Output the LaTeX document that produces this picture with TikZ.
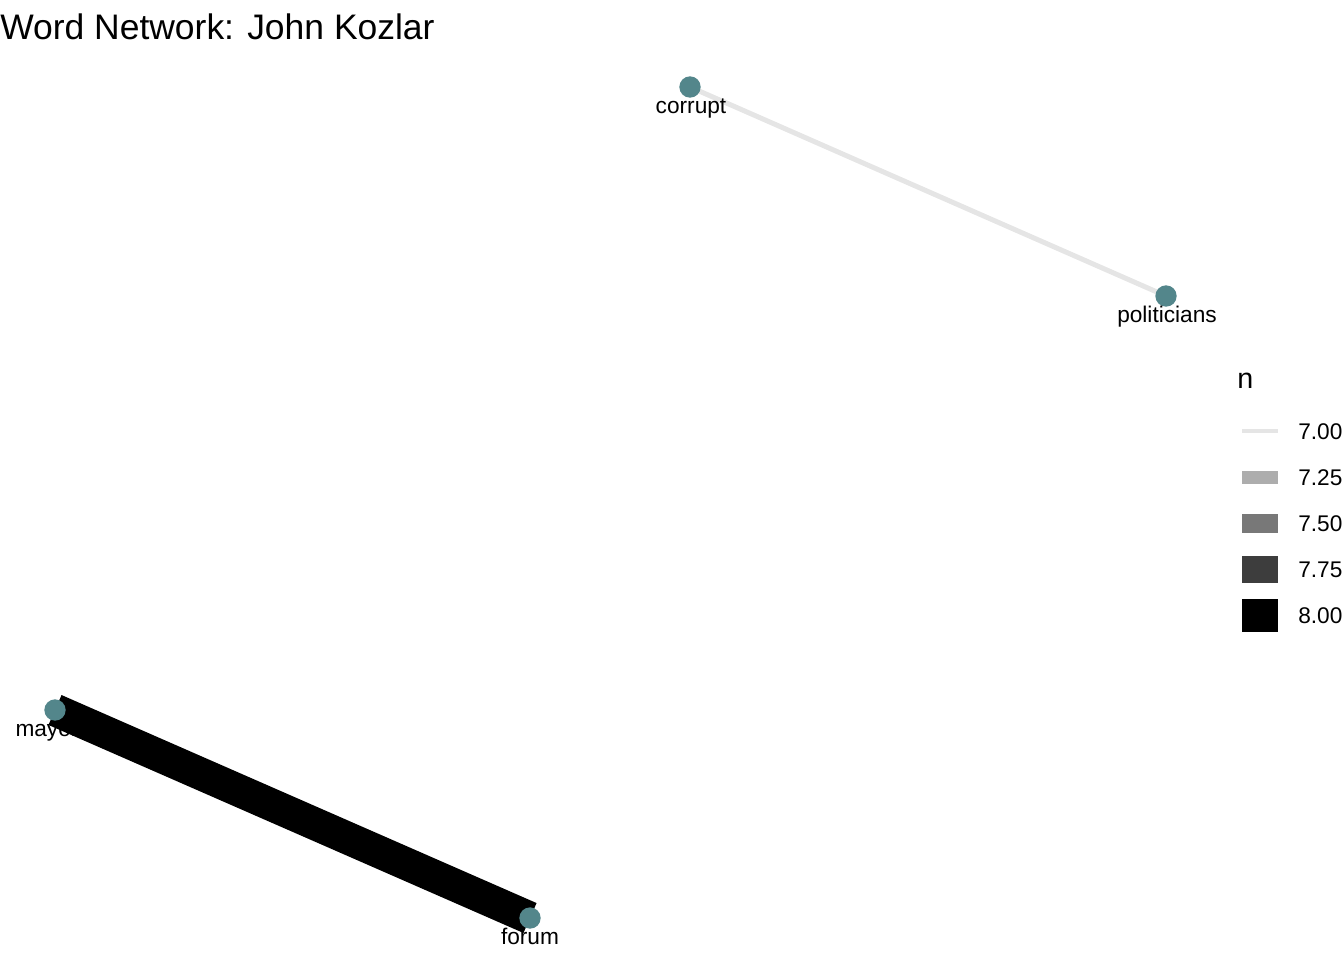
\documentclass[tikz,border=0pt]{standalone}
\usepackage{fontspec}
\setmainfont{Liberation Sans}
\definecolor{nodeteal}{HTML}{53868B}
\tikzset{
  word/.style={circle,fill=nodeteal,inner sep=0pt,minimum size=16pt},
  wordlabel/.style={font=\fontsize{17}{20}\selectfont,inner sep=0pt,anchor=base},
  keylabel/.style={font=\fontsize{17}{20}\selectfont,anchor=west,inner sep=0pt}
}
\begin{document}
\begin{tikzpicture}[x=0.75pt,y=-0.75pt]
    \useasboundingbox (0,0) rectangle (1344,960);
    \node [anchor=west,inner sep=0pt,font=\fontsize{26.6}{30}\selectfont] (title) at (0,27) {Word Network: John Kozlar};
    % words
    \coordinate (corrupt) at (690,87);
    \coordinate (politicians) at (1166,296);
    \coordinate (mayor) at (55,710);
    \coordinate (forum) at (530,918);
    \node [wordlabel] (mayorlbl) at (47,736) {mayor};
    % edges
    \draw [line width=3.75pt,color=black!10] (corrupt)--(politicians);
    \draw [line width=24.5pt,color=black] (mayor)--(forum);
    \node [word] (corruptdot) at (corrupt) {};
    \node [word] (politiciansdot) at (politicians) {};
    \node [word] (mayordot) at (mayor) {};
    \node [word] (forumdot) at (forum) {};
    \node [wordlabel] (corruptlbl) at (691,113) {corrupt};
    \node [wordlabel] (politicianslbl) at (1167,322) {politicians};
    \node [wordlabel] (forumlbl) at (530,944) {forum};
    % legend
    \node [anchor=west,inner sep=0pt,font=\fontsize{21.5}{24}\selectfont] (ntitle) at (1237,381) {n};
    \fill [black!10] (1242,429) rectangle (1278,433);
    \fill [black!32] (1242,471) rectangle (1278,484);
    \fill [black!53] (1242,514) rectangle (1278,533);
    \fill [black!76] (1242,556) rectangle (1278,583);
    \fill [black] (1242,599) rectangle (1278,632);
    \node [keylabel] (k1) at (1298,432) {7.00};
    \node [keylabel] (k2) at (1298,478) {7.25};
    \node [keylabel] (k3) at (1298,524) {7.50};
    \node [keylabel] (k4) at (1298,570) {7.75};
    \node [keylabel] (k5) at (1298,616) {8.00};
\end{tikzpicture}
\end{document}
